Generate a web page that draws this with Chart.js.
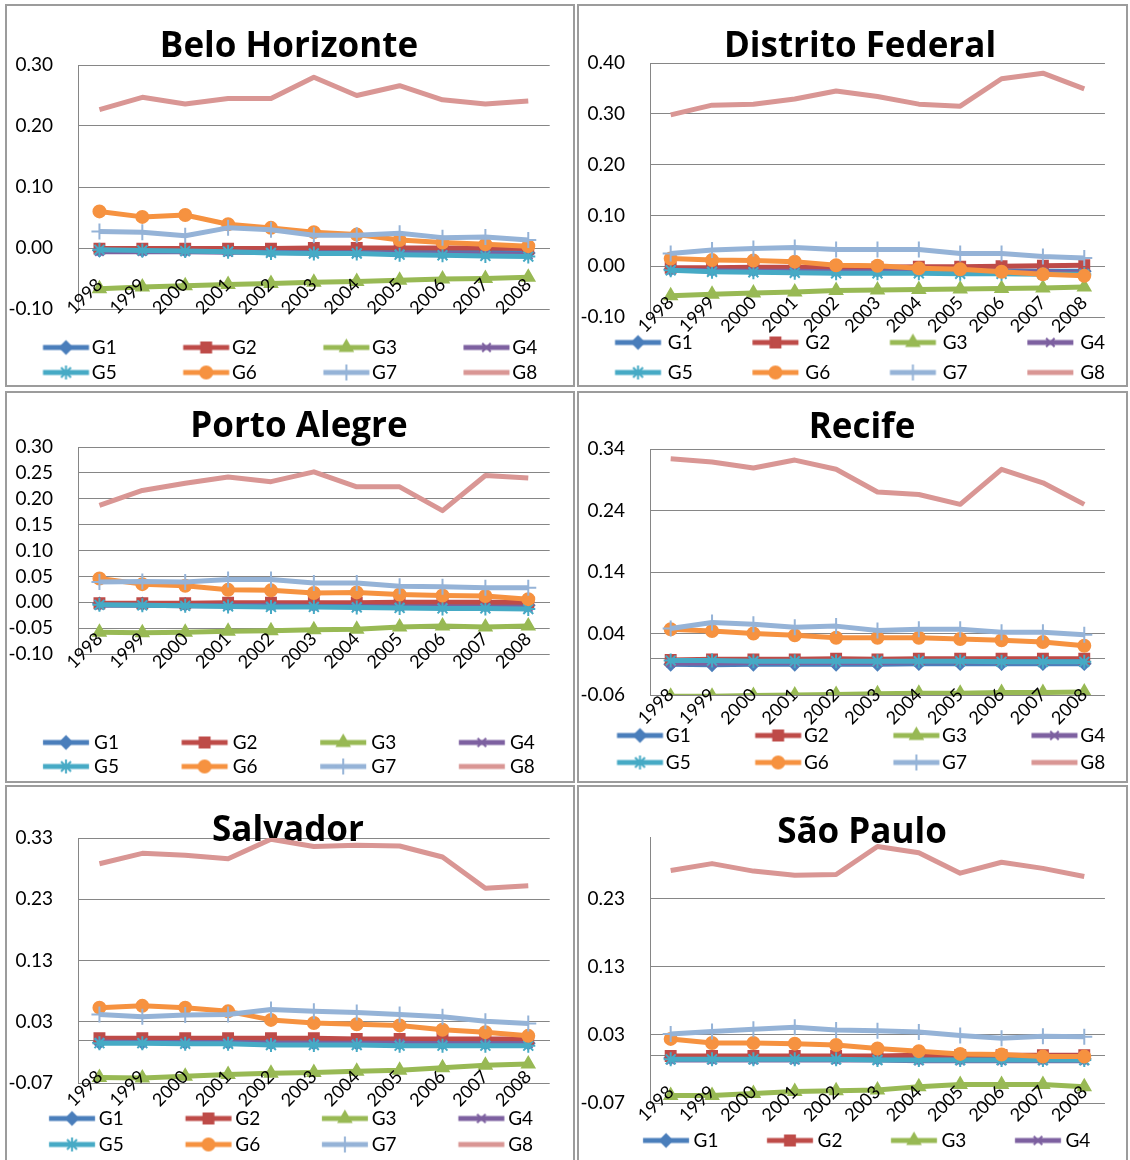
<!DOCTYPE html>
<html>
<head>
<meta charset="utf-8">
<script src="https://cdn.jsdelivr.net/npm/chart.js@4.4.1/dist/chart.umd.min.js"></script>
<style>
  html, body { margin:0; padding:0; background:#ffffff; }
  body { width:1130px; height:1160px; overflow:hidden; position:relative; }
  .frame { position:absolute; box-sizing:border-box; border:2px solid #9c9c9c; }
  canvas { position:absolute; }
</style>
</head>
<body>
<script>
// ------------------------------------------------------------------ data
const years = ['1998','1999','2000','2001','2002','2003','2004','2005','2006','2007','2008'];
const groupNames = ['G1','G2','G3','G4','G5','G6','G7','G8'];

// Belo Horizonte
const bhG1 = [-0.004,-0.004,-0.004,-0.004,-0.005,-0.005,-0.005,-0.006,-0.007,-0.007,-0.008];
const bhG2 = [-0.001,-0.001,-0.001,-0.001,-0.001,0.000,0.000,0.000,0.000,0.000,-0.001];
const bhG3 = [-0.067,-0.064,-0.062,-0.060,-0.058,-0.056,-0.055,-0.053,-0.051,-0.050,-0.048];
const bhG4 = [-0.006,-0.006,-0.006,-0.007,-0.007,-0.008,-0.008,-0.009,-0.010,-0.010,-0.011];
const bhG5 = [-0.003,-0.004,-0.005,-0.006,-0.008,-0.009,-0.009,-0.011,-0.012,-0.013,-0.014];
const bhG6 = [0.060,0.051,0.054,0.039,0.033,0.026,0.022,0.013,0.009,0.006,0.003];
const bhG7 = [0.027,0.026,0.020,0.033,0.030,0.021,0.021,0.024,0.017,0.018,0.013];
const bhG8 = [0.227,0.247,0.236,0.245,0.245,0.280,0.250,0.266,0.243,0.236,0.241];
const bhTicks = [-0.10,0.00,0.10,0.20,0.30];

// Distrito Federal
const dfG1 = [-0.006,-0.007,-0.007,-0.008,-0.008,-0.008,-0.008,-0.009,-0.009,-0.010,-0.010];
const dfG2 = [-0.003,-0.003,-0.002,-0.002,-0.002,-0.002,-0.001,-0.001,0.000,0.001,0.002];
const dfG3 = [-0.058,-0.055,-0.053,-0.051,-0.048,-0.047,-0.046,-0.045,-0.044,-0.043,-0.041];
const dfG4 = [-0.008,-0.009,-0.010,-0.010,-0.011,-0.011,-0.011,-0.012,-0.012,-0.012,-0.013];
const dfG5 = [-0.008,-0.011,-0.012,-0.013,-0.014,-0.014,-0.014,-0.015,-0.015,-0.016,-0.016];
const dfG6 = [0.015,0.012,0.011,0.009,0.002,0.001,-0.004,-0.006,-0.011,-0.016,-0.019];
const dfG7 = [0.025,0.032,0.035,0.037,0.033,0.033,0.033,0.025,0.025,0.019,0.016];
const dfG8 = [0.298,0.317,0.319,0.329,0.345,0.334,0.319,0.315,0.369,0.380,0.349];
const dfTicks = [-0.10,0.00,0.10,0.20,0.30,0.40];

// Porto Alegre
const paG1 = [-0.003,-0.003,-0.004,-0.004,-0.004,-0.005,-0.005,-0.005,-0.006,-0.006,-0.006];
const paG2 = [-0.002,-0.002,-0.002,-0.001,-0.001,-0.001,-0.001,0.000,0.000,0.000,0.000];
const paG3 = [-0.058,-0.059,-0.058,-0.056,-0.055,-0.053,-0.052,-0.048,-0.046,-0.048,-0.046];
const paG4 = [-0.006,-0.006,-0.007,-0.007,-0.007,-0.008,-0.008,-0.009,-0.009,-0.010,-0.010];
const paG5 = [-0.005,-0.006,-0.007,-0.008,-0.009,-0.009,-0.010,-0.011,-0.012,-0.012,-0.013];
const paG6 = [0.046,0.035,0.032,0.024,0.023,0.018,0.019,0.015,0.013,0.012,0.006];
const paG7 = [0.039,0.040,0.039,0.044,0.044,0.037,0.037,0.031,0.030,0.028,0.028];
const paG8 = [0.187,0.216,0.230,0.242,0.233,0.252,0.223,0.223,0.177,0.245,0.240];
const paTicks = [-0.10,-0.05,0.00,0.05,0.10,0.15,0.20,0.25,0.30];

// Recife
const reG1 = [-0.010,-0.011,-0.010,-0.010,-0.010,-0.010,-0.009,-0.009,-0.009,-0.009,-0.009];
const reG2 = [-0.003,-0.002,-0.002,-0.002,-0.001,-0.002,-0.001,-0.001,-0.001,-0.001,-0.001];
const reG3 = [-0.062,-0.062,-0.061,-0.060,-0.059,-0.058,-0.057,-0.057,-0.056,-0.056,-0.055];
const reG4 = [-0.008,-0.008,-0.007,-0.007,-0.007,-0.007,-0.006,-0.006,-0.006,-0.006,-0.006];
const reG5 = [-0.004,-0.004,-0.005,-0.005,-0.005,-0.005,-0.005,-0.005,-0.006,-0.006,-0.006];
const reG6 = [0.047,0.044,0.040,0.037,0.033,0.033,0.033,0.031,0.029,0.026,0.020];
const reG7 = [0.048,0.058,0.055,0.050,0.052,0.045,0.047,0.047,0.042,0.042,0.038];
const reG8 = [0.324,0.319,0.309,0.322,0.307,0.270,0.266,0.250,0.307,0.285,0.250];
const reTicks = [-0.06,0.04,0.14,0.24,0.34];

// Salvador
const saG1 = [-0.004,-0.004,-0.004,-0.004,-0.005,-0.005,-0.005,-0.005,-0.005,-0.005,-0.005];
const saG2 = [0.003,0.003,0.003,0.003,0.003,0.003,0.002,0.002,0.002,0.002,0.002];
const saG3 = [-0.061,-0.062,-0.059,-0.056,-0.054,-0.053,-0.051,-0.049,-0.045,-0.041,-0.039];
const saG4 = [-0.003,-0.004,-0.004,-0.004,-0.005,-0.005,-0.005,-0.005,-0.006,-0.006,-0.006];
const saG5 = [-0.005,-0.005,-0.006,-0.006,-0.008,-0.008,-0.008,-0.009,-0.009,-0.009,-0.009];
const saG6 = [0.053,0.056,0.053,0.047,0.033,0.028,0.026,0.024,0.017,0.013,0.007];
const saG7 = [0.042,0.038,0.041,0.042,0.050,0.047,0.045,0.042,0.038,0.031,0.027];
const saG8 = [0.288,0.305,0.302,0.296,0.328,0.316,0.318,0.317,0.299,0.248,0.252];
const saTicks = [-0.07,0.03,0.13,0.23,0.33];

// São Paulo
const spG1 = [-0.004,-0.004,-0.004,-0.004,-0.004,-0.005,-0.005,-0.005,-0.005,-0.005,-0.005];
const spG2 = [-0.001,-0.001,-0.001,-0.001,-0.001,-0.001,0.000,0.000,0.000,0.000,0.000];
const spG3 = [-0.059,-0.059,-0.056,-0.053,-0.052,-0.051,-0.046,-0.043,-0.043,-0.043,-0.046];
const spG4 = [-0.007,-0.007,-0.007,-0.007,-0.007,-0.007,-0.008,-0.008,-0.008,-0.008,-0.008];
const spG5 = [-0.006,-0.006,-0.006,-0.006,-0.006,-0.007,-0.007,-0.007,-0.007,-0.007,-0.007];
const spG6 = [0.024,0.018,0.018,0.017,0.015,0.010,0.006,0.002,0.001,-0.002,-0.002];
const spG7 = [0.031,0.035,0.038,0.041,0.037,0.036,0.034,0.029,0.025,0.028,0.027];
const spG8 = [0.271,0.281,0.270,0.264,0.265,0.306,0.297,0.267,0.283,0.274,0.262];
const spTicks = [-0.07,0.03,0.13,0.23];
const spMax = 0.32;

// ------------------------------------------------------------------ styles & layout
const seriesStyle = [
  {color:'#4A7EBB', point:'rectRot',  r:6},
  {color:'#BE4B48', point:'rect',     r:7},
  {color:'#98B954', point:'triangle', r:7},
  {color:'#7D60A0', point:'crossRot', r:6},
  {color:'#46AAC5', point:'star',     r:7},
  {color:'#F69240', point:'circle',   r:6},
  {color:'#95B3D7', point:'cross',    r:8},
  {color:'#D99694', point:'line',     r:0}
];

const panels = [
  {title:'Belo Horizonte',   series:[bhG1,bhG2,bhG3,bhG4,bhG5,bhG6,bhG7,bhG8], ticks:bhTicks, max:bhTicks[bhTicks.length-1],
   geo:{frame:[5,4,570,383],   inner:[7,6],     PL:78,  PR:567,  PT:65,  PB:309,  Tx:289, Ty:47.5, LS:43,  R1:347,  step:140, lp:6}},
  {title:'Distrito Federal', series:[dfG1,dfG2,dfG3,dfG4,dfG5,dfG6,dfG7,dfG8], ticks:dfTicks, max:dfTicks[dfTicks.length-1],
   geo:{frame:[577,4,551,383], inner:[579,6],   PL:650, PR:1123, PT:63,  PB:317,  Tx:860, Ty:47,   LS:615, R1:342,  step:140, lp:11}},
  {title:'Porto Alegre',     series:[paG1,paG2,paG3,paG4,paG5,paG6,paG7,paG8], ticks:paTicks, max:paTicks[paTicks.length-1],
   geo:{frame:[5,391,570,392], inner:[7,393],   PL:78,  PR:567,  PT:447, PB:654,  Tx:299, Ty:427.5,LS:43,  R1:742,  step:140, lp:5}},
  {title:'Recife',           series:[reG1,reG2,reG3,reG4,reG5,reG6,reG7,reG8], ticks:reTicks, max:reTicks[reTicks.length-1],
   geo:{frame:[577,391,551,392], inner:[579,393], PL:650, PR:1123, PT:449, PB:695, Tx:862, Ty:428, LS:617, R1:735, step:138, lp:8}},
  {title:'Salvador',         series:[saG1,saG2,saG3,saG4,saG5,saG6,saG7,saG8], ticks:saTicks, max:saTicks[saTicks.length-1],
   geo:{frame:[5,785,570,420], inner:[7,787],   PL:78,  PR:567,  PT:838, PB:1083, Tx:288, Ty:831,  LS:49,  R1:1118, step:137, lp:7}},
  {title:'São Paulo',        series:[spG1,spG2,spG3,spG4,spG5,spG6,spG7,spG8], ticks:spTicks, max:spMax,
   geo:{frame:[577,785,551,420], inner:[579,787], PL:650, PR:1123, PT:837, PB:1103, Tx:862, Ty:833, LS:643, R1:1140, step:125, lp:10}}
];

const FONT = 'Lato';
const TITLE_FONT = 'Open Sans';
const TFS = 35, TLH = 42;
const LEG_FS = 19, LINE_LEN = 46, LEG_GAP = 3;
const Y_FS = 19, Y_GAP = 25;
const X_FS = 18, X_PAD = 26;
const LINE_W = 5;
const GRID = '#868686';

const mctx = document.createElement('canvas').getContext('2d');
mctx.font = LEG_FS + 'px ' + FONT;
const meas = t => mctx.measureText(t).width;
const yctx = document.createElement('canvas').getContext('2d');
yctx.font = Y_FS + 'px ' + FONT;
const fmt = v => Number(v).toFixed(2);

function drawMarker(g, st, x, y) {
  g.lineWidth = 2;
  if (Chart.helpers && Chart.helpers.drawPoint) {
    Chart.helpers.drawPoint(g, {pointStyle: st.point, radius: st.r, borderWidth: 2, rotation: 0}, x, y);
  } else {
    g.beginPath(); g.arc(x, y, st.r, 0, Math.PI * 2); g.fill();
  }
}

function legendImage(st, boxW, lineStart) {
  const hw = Math.ceil(Math.max(boxW / 2 - lineStart, lineStart + LINE_LEN - boxW / 2)) + 2;
  const c = document.createElement('canvas');
  c.width = 2 * hw; c.height = 24;
  const g = c.getContext('2d');
  const x0 = hw - boxW / 2 + lineStart, cy = 12;
  g.strokeStyle = st.color; g.fillStyle = st.color; g.lineWidth = LINE_W;
  g.beginPath(); g.moveTo(x0, cy); g.lineTo(x0 + LINE_LEN, cy); g.stroke();
  if (st.r > 0) drawMarker(g, st, x0 + LINE_LEN / 2, cy);
  return c;
}

panels.forEach(pn => {
  const sp = pn.geo;
  const f = document.createElement('div');
  f.className = 'frame';
  Object.assign(f.style, {left: sp.frame[0] + 'px', top: sp.frame[1] + 'px', width: sp.frame[2] + 'px', height: sp.frame[3] + 'px'});
  document.body.appendChild(f);

  const cl = sp.inner[0], ct = sp.inner[1];
  const pl = 2 * sp.Tx - sp.PR - cl, pr = 3;
  const W = sp.PR - cl + pr;
  const yw = sp.PL - cl - pl;
  const At = sp.PT - ct, Ab = sp.PB - ct;
  const padTop = sp.Ty - ct - TLH / 2, padBot = At - TLH - padTop;
  const p = sp.lp;
  let G = sp.R1 - ct - Ab - p - LEG_FS / 2;
  const legH0 = G + 2 * (LEG_FS + p) + 10;
  const H = Math.ceil(Ab + legH0);
  G += H - (Ab + legH0);

  // widest y label (labels are mirrored + far-aligned so they are not clipped to the axis box)
  const widest = Math.max(...pn.ticks.map(v => yctx.measureText(fmt(v)).width));

  // legend geometry (4 columns)
  const L = pl, R = W - pr;
  const tw4 = meas('G4');
  const d0 = 2 * (sp.LS - cl) - (L + R - 3 * sp.step - LINE_LEN - LEG_GAP - tw4);
  const BW = d0 + LINE_LEN + LEG_GAP - LEG_FS / 2;
  const target = sp.step - BW - LEG_FS / 2 - p;
  const padText = t => { let s = t; while (meas(s + '\u00a0') <= target + 1.5) s += '\u00a0'; return s; };
  const texts = groupNames.map((g, i) => (i % 4 === 3) ? g : padText(g));
  const itemW = t => BW + LEG_FS / 2 + meas(t);
  const lw = texts.slice(0, 4).reduce((a, t) => a + itemW(t) + p, 0);
  const rowStart = (L + p + R - lw) / 2;
  const lineStart = sp.LS - cl - rowStart;
  const imgs = seriesStyle.map(st => legendImage(st, BW, lineStart));

  const cv = document.createElement('canvas');
  cv.width = W; cv.height = H;
  Object.assign(cv.style, {left: cl + 'px', top: ct + 'px', width: W + 'px', height: H + 'px'});
  document.body.appendChild(cv);

  new Chart(cv, {
    type: 'line',
    data: {
      labels: years,
      datasets: pn.series.map((arr, i) => ({
        label: groupNames[i],
        data: arr,
        borderColor: seriesStyle[i].color,
        backgroundColor: seriesStyle[i].color,
        borderWidth: LINE_W,
        borderJoinStyle: 'round',
        pointStyle: seriesStyle[i].point,
        pointRadius: seriesStyle[i].r,
        pointBorderWidth: 2,
        pointBackgroundColor: seriesStyle[i].color,
        pointBorderColor: seriesStyle[i].color,
        tension: 0,
        fill: false,
        order: 7 - i
      }))
    },
    options: {
      responsive: false,
      animation: false,
      devicePixelRatio: 1,
      layout: {padding: {left: pl, right: pr, top: 0, bottom: 0}},
      plugins: {
        tooltip: {enabled: false},
        title: {
          display: true, text: pn.title, color: '#000',
          font: {family: TITLE_FONT, size: TFS, weight: 'bold', lineHeight: TLH + 'px'},
          padding: {top: padTop, bottom: padBot}
        },
        legend: {
          display: true, position: 'bottom', align: 'center',
          title: {display: true, text: ' ', font: {size: 4, lineHeight: G + 'px'}, padding: 0},
          labels: {
            usePointStyle: true, pointStyleWidth: BW, padding: p, color: '#000',
            font: {family: FONT, size: LEG_FS},
            generateLabels: () => texts.map((t, i) => ({
              text: t, fillStyle: seriesStyle[i].color, strokeStyle: seriesStyle[i].color,
              lineWidth: 0, pointStyle: imgs[i], hidden: false, datasetIndex: i, fontColor: '#000'
            }))
          }
        }
      },
      scales: {
        x: {
          type: 'category', position: {y: 0}, offset: true,
          grid: {display: false, drawTicks: false, offset: true},
          border: {display: true, color: GRID, width: 1},
          ticks: {autoSkip: false, minRotation: 45, maxRotation: 45, padding: X_PAD, color: '#000',
                  font: {family: FONT, size: X_FS}, z: 1}
        },
        y: {
          type: 'linear', position: 'left', min: pn.ticks[0], max: pn.max,
          afterBuildTicks: s => { s.ticks = pn.ticks.map(v => ({value: v})); },
          afterFit: s => { s.width = yw; },
          grid: {color: GRID, lineWidth: 1, drawTicks: false},
          border: {display: true, color: GRID, width: 1},
          ticks: {autoSkip: false, mirror: true, crossAlign: 'far', padding: -(Y_GAP + widest),
                  color: '#000', font: {family: FONT, size: Y_FS}, callback: v => fmt(v)}
        }
      }
    }
  });
});
</script>
</body>
</html>
